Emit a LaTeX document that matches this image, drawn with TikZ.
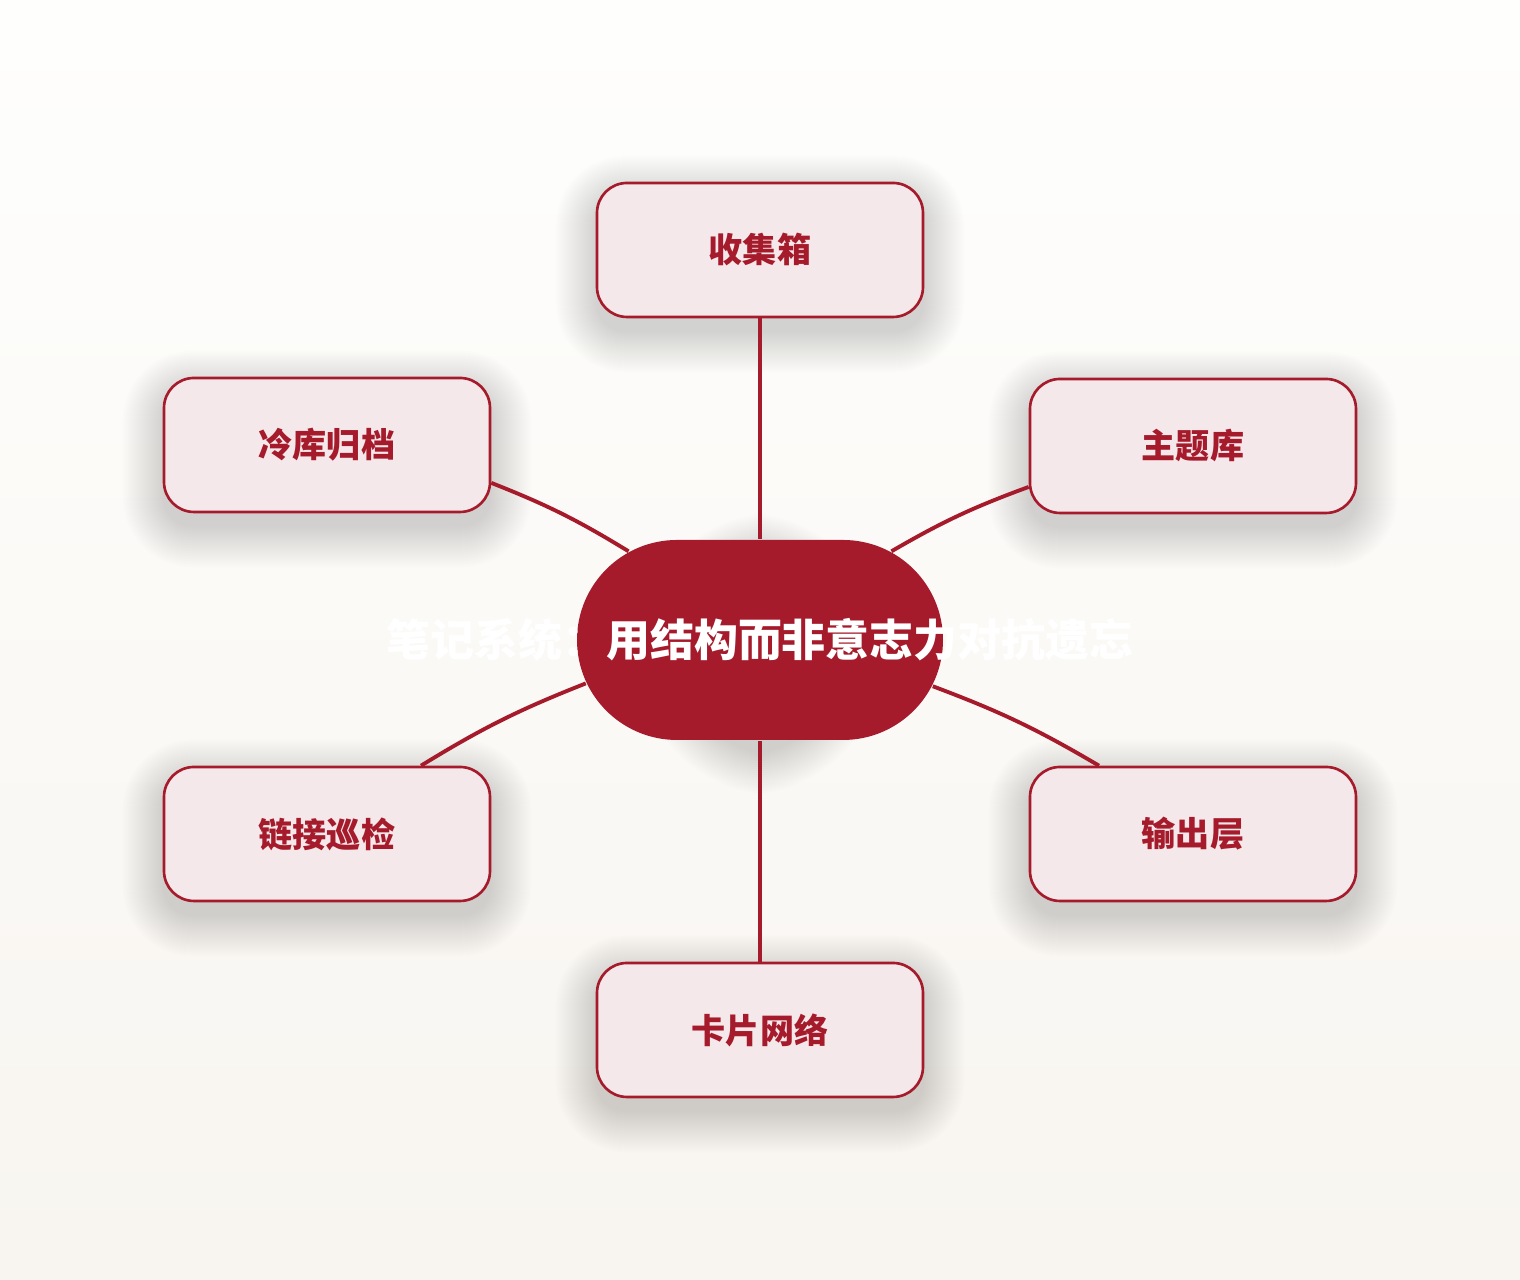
\documentclass[tikz,border=0pt]{standalone}
\usepackage{fontspec}
\setmainfont{Noto Sans CJK SC}
\usetikzlibrary{shapes.misc, calc}

\definecolor{brick}{HTML}{A51B2B}
\definecolor{blush}{HTML}{F5E8EB}
\definecolor{paperTop}{HTML}{FEFEFD}
\definecolor{paperBot}{HTML}{F8F5F0}

\pgfdeclarelayer{paper}
\pgfsetlayers{paper,main}

\begin{document}
\begin{tikzpicture}
            [semithick,
             topic/.style={shape=rectangle, draw=brick, line width=0.75pt, fill=blush, rounded corners=0.3cm,
                           minimum width=3.26cm, minimum height=1.34cm, text=brick,
                           font=\fontsize{9.7}{12}\selectfont\bfseries},
             hubnode/.style={shape=rounded rectangle, draw=none, fill=brick, inner sep=0pt,
                           minimum width=3.66cm, minimum height=2cm, text=white,
                           font=\fontsize{12.5}{15}\selectfont\bfseries},
             link/.style={draw=brick, line width=1.1pt},
             haze/.style={fill=black, fill opacity=0.0075, draw=none}]
            \useasboundingbox (0, 0) rectangle (15.2, 12.8);

            \node[hubnode] (hub) at (7.6, 6.4) {\makebox[0pt]{笔记系统：用结构而非意志力对抗遗忘}};
            \node[topic] (inbox) at (7.6, 10.3) {收集箱};
            \node[topic] (archive) at (3.27, 8.35) {冷库归档};
            \node[topic] (topics) at (11.93, 8.34) {主题库};
            \node[topic] (linkcheck) at (3.27, 4.46) {链接巡检};
            \node[topic] (output) at (11.93, 4.46) {输出层};
            \node[topic] (cards) at (7.6, 2.5) {卡片网络};

            \path [link] (hub.north) edge (inbox.south);
            \path [link] (hub.south) edge (cards.north);
            \path [link] (archive.-13) edge [bend left=5] (hub.146);
            \path [link] (hub.34) edge [bend left=5] (topics.194);
            \path [link] (linkcheck.36) edge [bend left=5] (hub.194);
            \path [link] (hub.-15) edge [bend left=5] (output.144);

            % paper and soft shadows
            \begin{pgfonlayer}{paper}
                \shade[top color=paperTop, bottom color=paperBot] (0, 0) rectangle (15.2, 12.8);
                \foreach \n/\rc in {inbox/0.3, archive/0.3, topics/0.3, linkcheck/0.3, output/0.3, cards/0.3, hub/1.0}{
                    \foreach \k in {0,...,20}{
                        \pgfmathsetmacro{\dd}{\k*0.02}
                        \pgfmathsetmacro{\rr}{\rc+\dd}
                        \fill[haze, rounded corners=\rr cm]
                            ($(\n.south west)+(-\dd, -0.14-\dd)$) rectangle
                            ($(\n.north east)+(\dd, -0.14+\dd)$);
                    }
                }
            \end{pgfonlayer}
        \end{tikzpicture}
\end{document}
